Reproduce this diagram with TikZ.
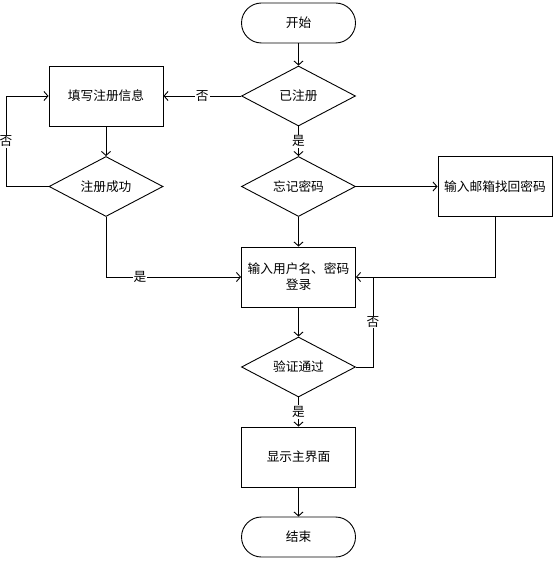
\documentclass[tikz,border=0pt]{standalone}
\usepackage{fontspec}
\setmainfont{Noto Sans CJK SC}
\usetikzlibrary{shapes.geometric,arrows.meta,calc}
\begin{document}
\begin{tikzpicture}[x=1pt,y=-1pt,
  every node/.style={font=\fontsize{12.7}{16}\selectfont},
  base/.style={draw,line width=0.9pt,inner sep=0pt,align=center},
  term/.style={base,rounded corners=20pt,minimum width=114pt,minimum height=40pt},
  proc/.style={base,rectangle,minimum width=114pt,minimum height=60pt},
  deci/.style={base,diamond,aspect=2,minimum width=114pt,minimum height=60pt},
  conn/.style={line width=0.9pt,-{Straight Barb[length=4pt,width=9pt,line width=0.9pt]}},
  plain/.style={line width=0.9pt},
  lab/.style={fill=white,inner sep=1pt}]
\useasboundingbox (0,0) rectangle (553,561);
\node[term] (start) at (298.5,23) {开始};
\node[deci] (reg) at (298.5,96) {已注册};
\node[proc] (fill) at (106,96) {填写注册信息};
\node[deci] (succ) at (106,186.5) {注册成功};
\node[deci] (forgot) at (298.5,186.5) {忘记密码};
\node[proc] (email) at (495,186.5) {输入邮箱找回密码};
\node[proc] (login) at (298.5,277) {输入用户名、密码\\登录};
\node[deci] (verify) at (298.5,367) {验证通过};
\node[proc] (show) at (298.5,457) {显示主界面};
\node[term] (end) at (298.5,537) {结束};
\coordinate (lt) at (6,186.5);
\coordinate (lb) at (6,96);
\coordinate (sb) at (106,277);
\coordinate (eb) at (495,277);
\coordinate (vr) at (373,367);
\coordinate (vt) at (373,277);

\draw[conn] (start) -- (reg);
\draw[conn] (reg) -- node[lab] {否} (fill);
\draw[conn] (reg) -- node[lab] {是} (forgot);
\draw[conn] (fill) -- (succ);
\draw[conn] (succ.west) -- (lt) -- node[lab] {否} (lb) -- (fill.west);
\draw[conn] (succ.south) -- (sb) -- (login.west);
\node[lab] at (140,277) {是};
\draw[conn] (forgot) -- (email);
\draw[conn] (forgot) -- (login);
\draw[conn] (email.south) -- (eb) -- (login.east);
\draw[conn] (login) -- (verify);
\draw[plain] (verify.east) -- (vr) -- node[lab] {否} (vt);
\draw[conn] (verify) -- node[lab] {是} (show);
\draw[conn] (show) -- (end);
\end{tikzpicture}
\end{document}
